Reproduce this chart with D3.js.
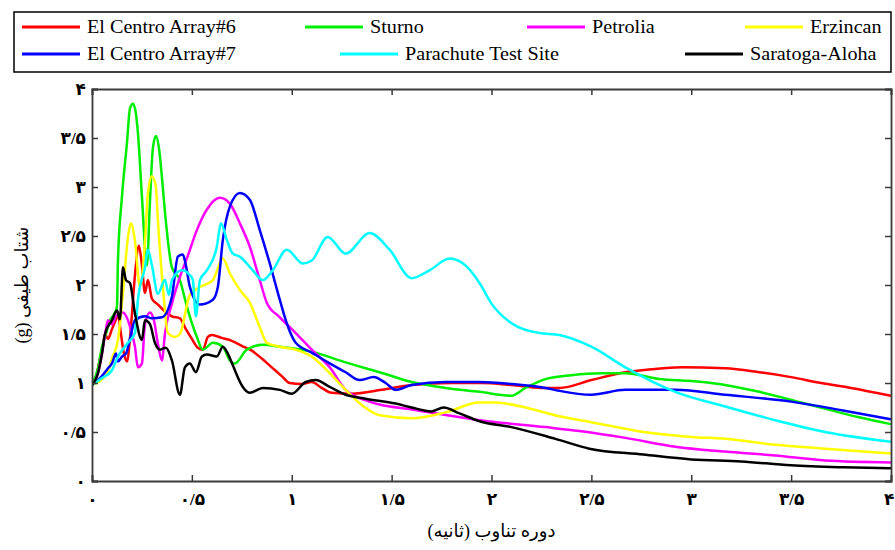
<!DOCTYPE html>
<html><head><meta charset="utf-8">
<script src="https://cdn.jsdelivr.net/npm/d3@7"></script>
<style>html,body{margin:0;padding:0;background:#fff;}svg{display:block;}</style>
</head><body>
<svg id="chart" width="895" height="550"></svg>
<script>
// ---- data: [period (s), spectral acceleration (g)] ----
const elCentro6 = [[0,0.98],[0.02,1.05],[0.04,1.25],[0.05,1.32],[0.065,1.5],[0.08,1.45],[0.1,1.55],[0.12,1.65],[0.13,1.7],[0.145,1.5],[0.16,1.3],[0.175,1.22],[0.19,1.45],[0.2,1.7],[0.215,2.1],[0.235,2.4],[0.25,2.2],[0.265,1.92],[0.28,2.05],[0.3,1.86],[0.33,1.8],[0.36,1.74],[0.4,1.68],[0.44,1.66],[0.47,1.55],[0.5,1.45],[0.53,1.36],[0.555,1.34],[0.58,1.47],[0.6,1.49],[0.65,1.46],[0.7,1.43],[0.75,1.38],[0.8,1.33],[0.85,1.25],[0.9,1.16],[0.95,1.07],[0.99,1.0],[1.05,0.99],[1.1,1.01],[1.15,0.95],[1.2,0.9],[1.3,0.89],[1.45,0.93],[1.6,0.98],[1.8,1.0],[1.95,1.0],[2.1,0.98],[2.25,0.95],[2.34,0.95],[2.5,1.03],[2.67,1.11],[2.8,1.14],[2.95,1.16],[3.17,1.15],[3.34,1.11],[3.5,1.06],[3.65,1.0],[3.8,0.95],[4.0,0.87]];
const sturno = [[0,1.0],[0.03,1.15],[0.05,1.37],[0.07,1.5],[0.09,1.64],[0.11,1.7],[0.125,1.78],[0.13,2.25],[0.15,2.9],[0.175,3.45],[0.19,3.8],[0.205,3.85],[0.22,3.75],[0.23,3.55],[0.25,2.9],[0.275,2.2],[0.29,2.85],[0.305,3.4],[0.32,3.52],[0.335,3.4],[0.35,3.1],[0.365,2.75],[0.4,2.18],[0.44,2.05],[0.475,1.78],[0.525,1.47],[0.555,1.34],[0.605,1.41],[0.655,1.37],[0.69,1.23],[0.715,1.2],[0.775,1.34],[0.855,1.39],[0.94,1.37],[1.1,1.32],[1.27,1.21],[1.44,1.11],[1.6,1.01],[1.77,0.95],[1.94,0.91],[2.1,0.87],[2.17,0.95],[2.27,1.04],[2.4,1.08],[2.55,1.1],[2.67,1.1],[2.84,1.04],[3.0,1.02],[3.1,1.0],[3.34,0.91],[3.59,0.78],[3.84,0.65],[4.0,0.58]];
const petrolia = [[0,0.98],[0.03,1.1],[0.05,1.3],[0.07,1.55],[0.08,1.64],[0.1,1.6],[0.12,1.68],[0.155,1.72],[0.18,1.64],[0.2,1.5],[0.215,1.37],[0.23,1.16],[0.25,1.2],[0.265,1.6],[0.29,1.72],[0.31,1.64],[0.33,1.4],[0.35,1.23],[0.365,1.5],[0.4,1.81],[0.44,2.08],[0.48,2.3],[0.525,2.56],[0.575,2.77],[0.64,2.89],[0.69,2.83],[0.74,2.63],[0.79,2.39],[0.84,2.05],[0.875,1.82],[0.94,1.67],[1.02,1.51],[1.1,1.34],[1.19,1.16],[1.27,0.93],[1.36,0.83],[1.44,0.78],[1.6,0.73],[1.94,0.62],[2.27,0.55],[2.44,0.51],[2.67,0.44],[2.92,0.35],[3.17,0.3],[3.42,0.26],[3.67,0.21],[4.0,0.19]];
const erzincan = [[0,0.98],[0.04,1.02],[0.08,1.12],[0.1,1.25],[0.13,1.44],[0.155,1.92],[0.18,2.49],[0.195,2.63],[0.215,2.45],[0.24,1.98],[0.265,2.43],[0.28,2.94],[0.3,3.11],[0.32,3.0],[0.33,2.66],[0.355,1.98],[0.38,1.51],[0.415,1.47],[0.44,1.5],[0.49,1.9],[0.54,1.98],[0.605,2.05],[0.655,2.27],[0.69,2.12],[0.74,1.95],[0.79,1.82],[0.84,1.57],[0.875,1.41],[0.94,1.37],[1.02,1.34],[1.1,1.27],[1.19,1.1],[1.27,0.93],[1.36,0.76],[1.44,0.67],[1.6,0.64],[1.77,0.7],[1.94,0.8],[2.02,0.8],[2.19,0.74],[2.34,0.66],[2.5,0.6],[2.76,0.5],[3.0,0.45],[3.17,0.43],[3.42,0.37],[3.67,0.33],[4.0,0.28]];
const elCentro7 = [[0,0.98],[0.04,1.05],[0.08,1.15],[0.1,1.2],[0.12,1.3],[0.13,1.22],[0.15,1.27],[0.17,1.3],[0.19,1.45],[0.215,1.64],[0.265,1.68],[0.3,1.66],[0.35,1.67],[0.4,1.88],[0.43,2.29],[0.455,2.31],[0.47,2.2],[0.49,1.98],[0.54,1.8],[0.605,1.85],[0.63,1.98],[0.655,2.46],[0.69,2.8],[0.74,2.94],[0.79,2.87],[0.84,2.56],[0.89,2.22],[0.94,1.85],[0.975,1.61],[1.02,1.41],[1.1,1.31],[1.19,1.2],[1.27,1.11],[1.34,1.03],[1.41,1.06],[1.47,1.0],[1.52,0.93],[1.6,0.98],[1.77,1.01],[1.94,1.01],[2.1,0.99],[2.27,0.95],[2.34,0.92],[2.5,0.88],[2.67,0.93],[2.92,0.93],[3.17,0.88],[3.5,0.81],[3.76,0.72],[4.0,0.63]];
const parachute = [[0,0.98],[0.05,1.05],[0.1,1.13],[0.13,1.27],[0.18,1.41],[0.215,1.51],[0.23,1.85],[0.265,2.18],[0.28,2.36],[0.3,2.2],[0.33,1.91],[0.365,2.05],[0.385,1.9],[0.4,2.05],[0.45,2.15],[0.49,2.1],[0.505,2.05],[0.52,1.68],[0.54,2.05],[0.575,2.15],[0.625,2.39],[0.645,2.63],[0.675,2.46],[0.705,2.32],[0.74,2.29],[0.805,2.15],[0.855,2.05],[0.905,2.15],[0.975,2.36],[1.055,2.22],[1.1,2.25],[1.18,2.49],[1.27,2.32],[1.39,2.53],[1.49,2.36],[1.6,2.07],[1.69,2.15],[1.79,2.27],[1.875,2.19],[1.94,2.02],[2.0,1.81],[2.1,1.61],[2.24,1.51],[2.34,1.49],[2.5,1.37],[2.67,1.16],[2.92,0.91],[3.17,0.76],[3.42,0.62],[3.67,0.5],[4.0,0.4]];
const saratoga = [[0,0.98],[0.03,1.1],[0.05,1.3],[0.065,1.5],[0.1,1.64],[0.125,1.74],[0.14,1.65],[0.155,2.18],[0.17,2.05],[0.19,2.02],[0.215,1.71],[0.25,1.44],[0.265,1.64],[0.29,1.6],[0.315,1.41],[0.34,1.34],[0.37,1.36],[0.4,1.23],[0.44,0.88],[0.465,1.16],[0.49,1.2],[0.52,1.11],[0.55,1.27],[0.575,1.29],[0.625,1.27],[0.655,1.37],[0.68,1.3],[0.705,1.18],[0.755,0.96],[0.79,0.9],[0.855,0.95],[0.94,0.93],[1.0,0.89],[1.07,1.01],[1.12,1.03],[1.19,0.96],[1.27,0.88],[1.37,0.84],[1.52,0.79],[1.6,0.75],[1.7,0.71],[1.76,0.75],[1.84,0.69],[1.94,0.61],[2.1,0.55],[2.32,0.43],[2.49,0.33],[2.76,0.27],[3.0,0.22],[3.25,0.2],[3.5,0.16],[3.76,0.14],[4.0,0.13]];

const seriesNames = ["El Centro Array#6","Sturno","Petrolia","Erzincan","El Centro Array#7","Parachute Test Site","Saratoga-Aloha"];
const seriesData = [elCentro6, sturno, petrolia, erzincan, elCentro7, parachute, saratoga];
const seriesColors = ["#ff0000","#00ee00","#ff00ff","#ffff00","#0000ff","#00ffff","#000000"];
const xTicks = [0,0.5,1,1.5,2,2.5,3,3.5,4];
const yTicks = [0,0.5,1,1.5,2,2.5,3,3.5,4];
const xTitle = "دوره تناوب (ثانیه)";
const yTitle = "شتاب طیفی (g)";

// ---- layout ----
const svg = d3.select("#chart");
const L = 92, R = 891, T = 89, B = 481;
const x = d3.scaleLinear().domain([0,4]).range([L,R]);
const y = d3.scaleLinear().domain([0,4]).range([B,T]);
const fa = v => String(v).replace(".", "/").replace(/[0-9]/g, d => "۰۱۲۳۴۵۶۷۸۹"[+d]);
const serif = "'Liberation Serif','Times New Roman','DejaVu Sans',serif";

svg.append("rect").attr("width",895).attr("height",550).attr("fill","#fff");

// curves
svg.append("clipPath").attr("id","clip").append("rect")
  .attr("x",L).attr("y",T).attr("width",R-L).attr("height",B-T);
const line = d3.line().x(d=>x(d[0])).y(d=>y(d[1])).curve(d3.curveMonotoneX);
svg.append("g").attr("clip-path","url(#clip)").selectAll("path").data(seriesData).join("path")
  .attr("d", line).attr("fill","none")
  .attr("stroke",(d,i)=>seriesColors[i]).attr("stroke-width",2.5)
  .attr("stroke-linejoin","round");

// axes (box with inward ticks)
const axisColor = "#3a3a3a";
const gx = svg.append("g").attr("transform",`translate(0,${B})`)
  .call(d3.axisBottom(x).tickValues(xTicks).tickSize(-6).tickPadding(12).tickFormat(fa));
const gxt = svg.append("g").attr("transform",`translate(0,${T})`)
  .call(d3.axisTop(x).tickValues(xTicks).tickSize(-6).tickFormat(""));
const gy = svg.append("g").attr("transform",`translate(${L},0)`)
  .call(d3.axisLeft(y).tickValues(yTicks).tickSize(-6).tickPadding(6).tickFormat(fa));
const gyr = svg.append("g").attr("transform",`translate(${R},0)`)
  .call(d3.axisRight(y).tickValues(yTicks).tickSize(-6).tickFormat(""));
[gx,gxt,gy,gyr].forEach(g=>{
  g.select(".domain").attr("stroke",axisColor).attr("stroke-width",1.8);
  g.selectAll(".tick line").attr("stroke",axisColor).attr("stroke-width",1.5);
  g.selectAll("text").attr("fill","#000").attr("font-family",serif)
   .attr("font-size",17).attr("font-weight","bold");
});
// keep the last x label inside the canvas
gx.selectAll(".tick text").filter(d=>d===xTicks[xTicks.length-1])
  .attr("text-anchor","end").attr("dx","3");

// axis titles
svg.append("text").attr("x",(L+R)/2).attr("y",537).attr("text-anchor","middle")
  .attr("font-family",serif).attr("font-size",18).attr("direction","rtl").text(xTitle);
svg.append("text").attr("transform",`translate(28,${(T+B)/2}) rotate(-90)`).attr("text-anchor","middle")
  .attr("font-family",serif).attr("font-size",18).attr("direction","rtl").text(yTitle);

// legend
svg.append("rect").attr("x",14).attr("y",12).attr("width",877).attr("height",60)
  .attr("fill","#fff").attr("stroke","#000").attr("stroke-width",1.5);
const legendX = [22,305,527,745,22,340,685];
const legendY = [27,27,27,27,54,54,54];
const lg = svg.append("g").selectAll("g").data(seriesNames).join("g")
  .attr("transform",(d,i)=>`translate(${legendX[i]},${legendY[i]})`);
lg.append("line").attr("x1",0).attr("x2",58).attr("y1",0).attr("y2",0)
  .attr("stroke",(d,i)=>seriesColors[i]).attr("stroke-width",3);
lg.append("text").attr("transform","translate(65,6) scale(1.12,1)")
  .attr("font-family",serif).attr("font-size",18).text(d=>d);
</script>
</body></html>
